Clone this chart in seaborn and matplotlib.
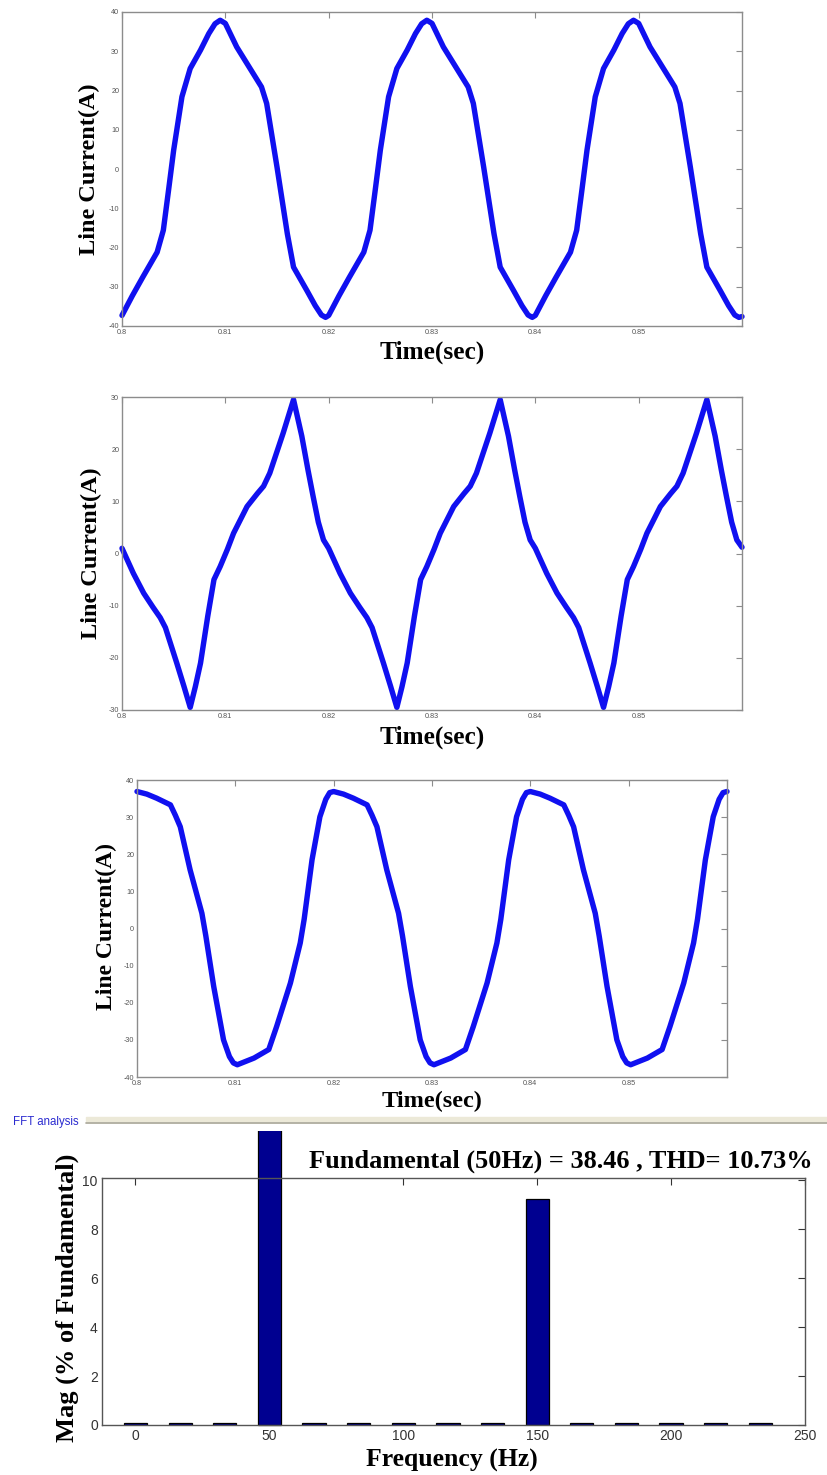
import numpy as np
import pandas as pd
import matplotlib
matplotlib.use("Agg")
import matplotlib.pyplot as plt
from matplotlib.patches import Rectangle
from matplotlib.lines import Line2D
import seaborn as sns

# ---------------------------------------------------------------- data
time_ticks = [0.80, 0.81, 0.82, 0.83, 0.84, 0.85]
time_tick_labels = ["0.8", "0.81", "0.82", "0.83", "0.84", "0.85"]

# phase A line current (A)
t_a = [0.8000, 0.8010, 0.8020, 0.8034, 0.8040, 0.8045, 0.8050, 0.8058, 0.8066, 0.8076,
       0.8084, 0.8090, 0.8095, 0.8100, 0.8111, 0.8123, 0.8135, 0.8140, 0.8150, 0.8160,
       0.8166, 0.8179, 0.8187, 0.8193, 0.8197,
       0.8200, 0.8210, 0.8220, 0.8234, 0.8240, 0.8245, 0.8250, 0.8258, 0.8266, 0.8276,
       0.8284, 0.8290, 0.8295, 0.8300, 0.8311, 0.8323, 0.8335, 0.8340, 0.8350, 0.8360,
       0.8366, 0.8379, 0.8387, 0.8393, 0.8397,
       0.8400, 0.8410, 0.8420, 0.8434, 0.8440, 0.8445, 0.8450, 0.8458, 0.8466, 0.8476,
       0.8484, 0.8490, 0.8495, 0.8500, 0.8511, 0.8523, 0.8535, 0.8540, 0.8550, 0.8560,
       0.8566, 0.8579, 0.8587, 0.8593, 0.8597, 0.8600]
i_a = [-37.3, -32.3, -27.6, -21.2, -15.6, -5.5, 4.8, 18.4, 25.6, 30.3,
       34.5, 37.0, 37.9, 37.1, 31.1, 26.0, 20.9, 16.7, 0.5, -16.5,
       -25.0, -31.0, -34.8, -37.2, -37.8,
       -37.3, -32.3, -27.6, -21.2, -15.6, -5.5, 4.8, 18.4, 25.6, 30.3,
       34.5, 37.0, 37.9, 37.1, 31.1, 26.0, 20.9, 16.7, 0.5, -16.5,
       -25.0, -31.0, -34.8, -37.2, -37.8,
       -37.3, -32.3, -27.6, -21.2, -15.6, -5.5, 4.8, 18.4, 25.6, 30.3,
       34.5, 37.0, 37.9, 37.1, 31.1, 26.0, 20.9, 16.7, 0.5, -16.5,
       -25.0, -31.0, -34.8, -37.2, -37.8, -37.6]

# phase B line current (A)
t_b = [0.8000, 0.8011, 0.8021, 0.8030, 0.8037, 0.8042, 0.8053, 0.8060, 0.8066, 0.8071,
       0.8076, 0.8083, 0.8089, 0.8095, 0.8102, 0.8108, 0.8121, 0.8131, 0.8137, 0.8143,
       0.8156, 0.8166, 0.8174, 0.8180, 0.8185, 0.8190, 0.8195,
       0.8200, 0.8211, 0.8221, 0.8230, 0.8237, 0.8242, 0.8253, 0.8260, 0.8266, 0.8271,
       0.8276, 0.8283, 0.8289, 0.8295, 0.8302, 0.8308, 0.8321, 0.8331, 0.8337, 0.8343,
       0.8356, 0.8366, 0.8374, 0.8380, 0.8385, 0.8390, 0.8395,
       0.8400, 0.8411, 0.8421, 0.8430, 0.8437, 0.8442, 0.8453, 0.8460, 0.8466, 0.8471,
       0.8476, 0.8483, 0.8489, 0.8495, 0.8502, 0.8508, 0.8521, 0.8531, 0.8537, 0.8543,
       0.8556, 0.8566, 0.8574, 0.8580, 0.8585, 0.8590, 0.8595, 0.8600]
i_b = [1.0, -3.8, -7.6, -10.3, -12.3, -14.2, -21.0, -25.5, -29.5, -25.5,
       -21.0, -12.0, -5.0, -2.5, 0.8, 3.9, 9.0, 11.5, 12.9, 15.4,
       23.1, 29.5, 22.5, 16.0, 10.9, 6.0, 2.6,
       1.0, -3.8, -7.6, -10.3, -12.3, -14.2, -21.0, -25.5, -29.5, -25.5,
       -21.0, -12.0, -5.0, -2.5, 0.8, 3.9, 9.0, 11.5, 12.9, 15.4,
       23.1, 29.5, 22.5, 16.0, 10.9, 6.0, 2.6,
       1.0, -3.8, -7.6, -10.3, -12.3, -14.2, -21.0, -25.5, -29.5, -25.5,
       -21.0, -12.0, -5.0, -2.5, 0.8, 3.9, 9.0, 11.5, 12.9, 15.4,
       23.1, 29.5, 22.5, 16.0, 10.9, 6.0, 2.6, 1.2]

# phase C line current (A)
t_c = [0.8000, 0.8010, 0.8020, 0.8034, 0.8039, 0.8044, 0.8054, 0.8066, 0.8070, 0.8078,
       0.8088, 0.8094, 0.8098, 0.8102, 0.8119, 0.8134, 0.8142, 0.8156, 0.8166, 0.8170,
       0.8178, 0.8186, 0.8192, 0.8196,
       0.8200, 0.8210, 0.8220, 0.8234, 0.8239, 0.8244, 0.8254, 0.8266, 0.8270, 0.8278,
       0.8288, 0.8294, 0.8298, 0.8302, 0.8319, 0.8334, 0.8342, 0.8356, 0.8366, 0.8370,
       0.8378, 0.8386, 0.8392, 0.8396,
       0.8400, 0.8410, 0.8420, 0.8434, 0.8439, 0.8444, 0.8454, 0.8466, 0.8470, 0.8478,
       0.8488, 0.8494, 0.8498, 0.8502, 0.8519, 0.8534, 0.8542, 0.8556, 0.8566, 0.8570,
       0.8578, 0.8586, 0.8592, 0.8596, 0.8600]
i_c = [36.9, 36.2, 35.1, 33.3, 30.5, 27.4, 15.8, 4.1, -2.0, -15.6,
       -30.0, -34.5, -36.2, -36.7, -34.9, -32.6, -26.4, -14.7, -3.9, 2.5,
       18.5, 30.1, 34.8, 36.6,
       36.9, 36.2, 35.1, 33.3, 30.5, 27.4, 15.8, 4.1, -2.0, -15.6,
       -30.0, -34.5, -36.2, -36.7, -34.9, -32.6, -26.4, -14.7, -3.9, 2.5,
       18.5, 30.1, 34.8, 36.6,
       36.9, 36.2, 35.1, 33.3, 30.5, 27.4, 15.8, 4.1, -2.0, -15.6,
       -30.0, -34.5, -36.2, -36.7, -34.9, -32.6, -26.4, -14.7, -3.9, 2.5,
       18.5, 30.1, 34.8, 36.6, 36.9]

# harmonic spectrum (% of fundamental)
fft_freq = [0, 16.67, 33.33, 50, 66.67, 83.33, 100, 116.67, 133.33, 150,
            166.67, 183.33, 200, 216.67, 233.33]
fft_mag = [0.1, 0.1, 0.1, 100.0, 0.1, 0.1, 0.1, 0.1, 0.1, 9.25,
           0.1, 0.1, 0.1, 0.1, 0.1]
fft_xticks = [0, 50, 100, 150, 200, 250]
fft_yticks = [0, 2, 4, 6, 8, 10]
fft_title = "Fundamental (50Hz) = 38.46 , THD= 10.73%"

# ---------------------------------------------------------------- style
sns.set_theme(style="white")
plt.rcParams["font.family"] = ["Liberation Serif", "DejaVu Serif"]
plt.rcParams["text.color"] = "black"
plt.rcParams["axes.labelcolor"] = "black"

WAVE_BLUE = "#1010f0"
FRAME_GRAY = "#8c8c8c"
NAVY = "#000090"

W, H = 827, 1475
fig = plt.figure(figsize=(W / 100, H / 100), dpi=100)


def axes_px(left, top, right, bottom):
    return fig.add_axes([left / W, 1 - bottom / H, (right - left) / W, (bottom - top) / H])


def wave_panel(ax, t, i, ylim, ystep, xlab_y, ylab_x, ylab_y, xlab_size, ylab_size):
    df = pd.DataFrame({"t": t, "i": i})
    sns.lineplot(data=df, x="t", y="i", ax=ax, color=WAVE_BLUE, linewidth=3.9,
                 sort=False, estimator=None, solid_capstyle="round",
                 solid_joinstyle="round", clip_on=False)
    ax.set_xlim(0.80, 0.86)
    ax.set_ylim(*ylim)
    ax.set_xticks(time_ticks)
    ax.set_xticklabels(time_tick_labels, fontfamily="Liberation Sans")
    yt = list(range(ylim[0], ylim[1] + 1, ystep))
    ax.set_yticks(yt)
    ax.set_yticklabels([str(v) for v in yt], fontfamily="Liberation Sans")
    ax.tick_params(direction="in", length=4, width=0.8, color=FRAME_GRAY,
                   labelcolor="#555555", labelsize=5.2, top=True, right=True, pad=2)
    for s in ax.spines.values():
        s.set_color(FRAME_GRAY)
        s.set_linewidth(1.0)
    ax.set_xlabel("Time(sec)", fontsize=xlab_size, fontweight="bold", va="center")
    ax.xaxis.set_label_coords(0.5, xlab_y)
    ax.set_ylabel("Line Current(A)", fontsize=ylab_size, fontweight="bold",
                  va="center", ha="center")
    ax.yaxis.set_label_coords(ylab_x, ylab_y)


ax1 = axes_px(122, 12, 742, 326)
wave_panel(ax1, t_a, i_a, (-40, 40), 10, -0.083, -0.052, 0.5, 18.3, 17.5)

ax2 = axes_px(122, 397, 742, 710)
wave_panel(ax2, t_b, i_b, (-30, 30), 10, -0.086, -0.050, 0.5, 18.3, 17.5)

ax3 = axes_px(137, 780, 727, 1077)
wave_panel(ax3, t_c, i_c, (-40, 40), 10, -0.084, -0.052, 0.507, 17.5, 17)

# ---------------------------------------------------------------- FFT panel
# panel frame with its caption
fig.patches.append(Rectangle((86 / W, 1 - 1121 / H), 1 - 86 / W, 4 / H,
                             transform=fig.transFigure, color="#ece9d8", zorder=0))
fig.lines.append(Line2D([86 / W, 1], [1 - 1122.5 / H] * 2, transform=fig.transFigure,
                        color="#a8a596", lw=1.2))
fig.text(13 / W, 1 - 1122 / H, "FFT analysis", color="#2b2bd0", fontsize=8.3,
         fontfamily="Liberation Sans", ha="left", va="center")

ax4 = axes_px(102, 1178, 805, 1425)
sns.barplot(x=fft_freq, y=fft_mag, native_scale=True, width=0.52, color=NAVY,
            saturation=1, edgecolor="black", linewidth=0.9, errorbar=None, ax=ax4)
ax4.set_xlim(-12.5, 250)
ax4.set_ylim(0, 10.1)
ax4.set_xticks(fft_xticks)
ax4.set_xticklabels([str(v) for v in fft_xticks], fontfamily="Liberation Sans")
ax4.set_yticks(fft_yticks)
ax4.set_yticklabels([str(v) for v in fft_yticks], fontfamily="Liberation Sans")
ax4.tick_params(direction="in", length=5, width=0.8, color="#333333",
                labelcolor="#333333", labelsize=10, top=True, right=True, pad=3)
for s in ax4.spines.values():
    s.set_color("#555555")
    s.set_linewidth(1.0)

# the fundamental bar runs past the axes up to the panel frame
clip_rect = Rectangle((0, 0), 1, 1 - 1131 / H, transform=fig.transFigure)
for p in ax4.patches:
    if p.get_height() > 20:
        p.set_clip_path(clip_rect)

ax4.text(0.653, 1.066, fft_title, transform=ax4.transAxes, ha="center", va="center",
         fontsize=18.9, fontweight="bold", zorder=10, clip_on=False)
ax4.set_xlabel("Frequency (Hz)", fontsize=18.5, fontweight="bold", va="center")
ax4.xaxis.set_label_coords(0.498, -0.142)
ax4.set_ylabel("Mag (% of Fundamental)", fontsize=19, fontweight="bold",
               va="center", ha="center")
ax4.yaxis.set_label_coords(-0.050, 0.514)

fig.savefig("out.png", dpi=100, facecolor="white")
